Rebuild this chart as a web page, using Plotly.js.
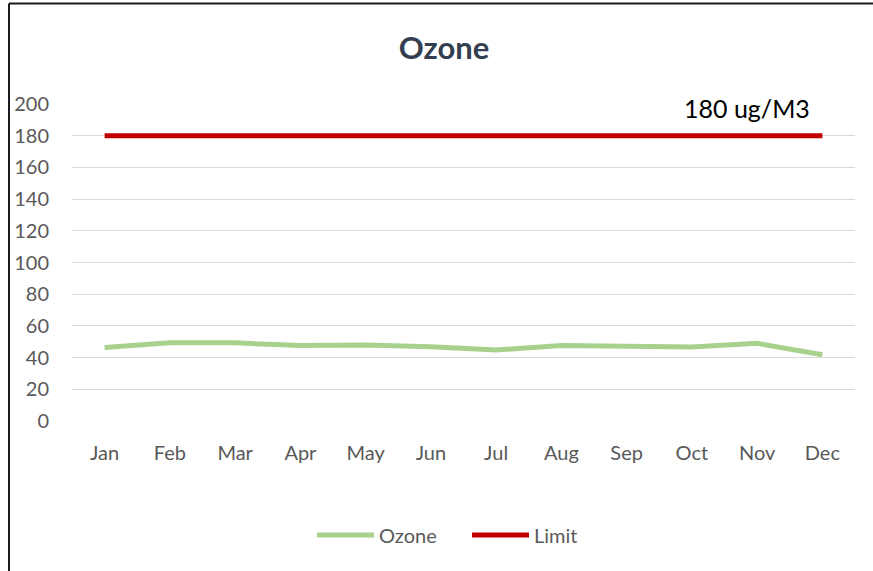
<!DOCTYPE html>
<html>
<head>
<meta charset="utf-8">
<script src="https://cdn.plot.ly/plotly-3.0.1.min.js"></script>
<style>html,body{margin:0;padding:0;background:#fff;}#chart{width:873px;height:571px;}</style>
</head>
<body>
<div id="chart"></div>
<script>
const months = ["Jan","Feb","Mar","Apr","May","Jun","Jul","Aug","Sep","Oct","Nov","Dec"];
const ozone = [46.3, 49.3, 49.3, 47.6, 47.9, 46.9, 44.8, 47.7, 47.1, 46.7, 49.0, 41.8];
const limit = [180, 180, 180, 180, 180, 180, 180, 180, 180, 180, 180, 180];
const yTicks = [0, 20, 40, 60, 80, 100, 120, 140, 160, 180, 200];
const limitLabel = "180 ug/M3";

const FONT = "Lato, 'Open Sans', sans-serif";

const traces = [
  {x: months, y: ozone, name: "Ozone", type: "scatter", mode: "lines",
   line: {color: "#a9d18e", width: 5}},
  {x: months, y: limit, name: "Limit", type: "scatter", mode: "lines",
   line: {color: "#c00000", width: 5}}
];

const layout = {
  width: 873, height: 571,
  margin: {l: 72, r: 18, t: 104, b: 150},
  paper_bgcolor: "#fff", plot_bgcolor: "#fff",
  font: {family: FONT, size: 20, color: "#595959"},
  title: {text: "<b>Ozone</b>", font: {family: FONT, size: 31, color: "#333f50"},
          x: 444/873, xref: "container", xanchor: "center",
          y: 1 - 48/571, yref: "container", yanchor: "middle"},
  xaxis: {type: "category", range: [-0.5, 11.5], showgrid: false, zeroline: false,
          showline: false, ticks: "", ticklabelstandoff: 18,
          tickfont: {family: FONT, size: 20, color: "#595959"}},
  yaxis: {range: [0, 200], tickvals: yTicks, ticktext: yTicks.map(String),
          showgrid: true, gridcolor: "#d9d9d9", gridwidth: 1, zeroline: false,
          showline: false, ticks: "", ticklabelstandoff: 22,
          tickfont: {family: FONT, size: 20, color: "#595959"}},
  showlegend: true,
  legend: {orientation: "h", x: (467-72)/783, xanchor: "center",
           y: 1 - 535/571, yref: "container", yanchor: "middle",
           font: {family: FONT, size: 20, color: "#595959"}, itemwidth: 57,
           entrywidth: 83, entrywidthmode: "pixels", tracegroupgap: 0},
  annotations: [{text: limitLabel, xref: "paper", x: (747-72)/783, xanchor: "center",
                 yref: "y", y: 197.3, yanchor: "middle", showarrow: false,
                 font: {family: FONT, size: 25, color: "#000"}}],
  shapes: [
    {type: "line", xref: "paper", yref: "paper", x0: (9-72)/783, x1: (9-72)/783,
     y0: (421-3.5)/317, y1: (421-580)/317, line: {color: "#1a1a1a", width: 2}},
    {type: "line", xref: "paper", yref: "paper", x0: (9-72)/783, x1: (880-72)/783,
     y0: (421-3.5)/317, y1: (421-3.5)/317, line: {color: "#1a1a1a", width: 2}}
  ]
};

Plotly.newPlot("chart", traces, layout, {displayModeBar: false, staticPlot: true});
</script>
</body>
</html>
